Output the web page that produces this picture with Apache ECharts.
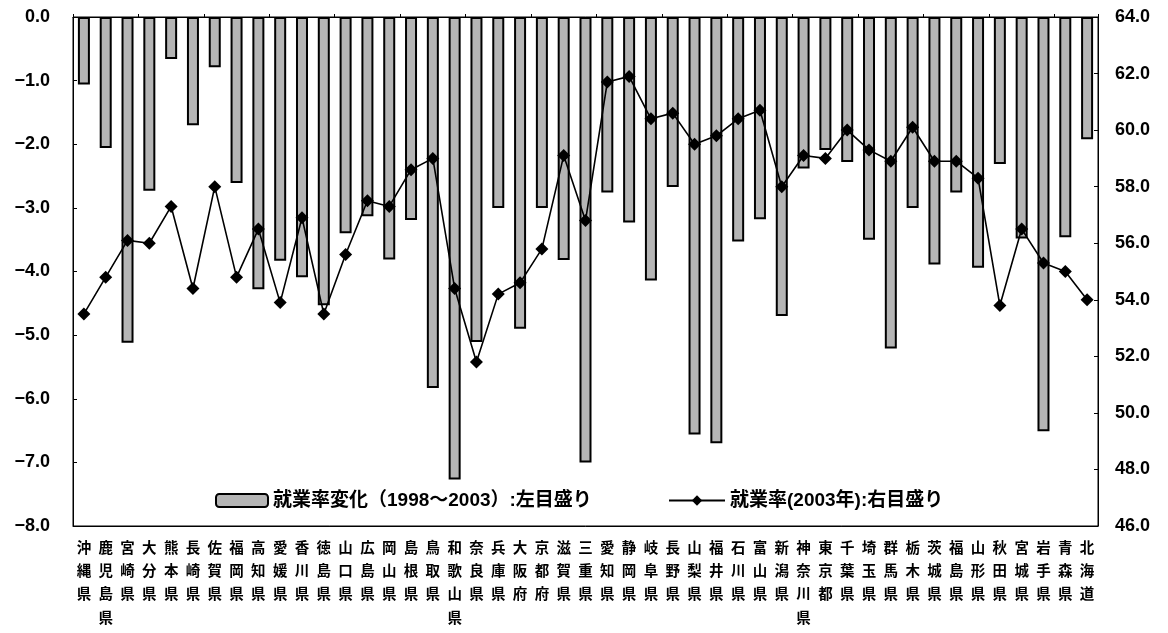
<!DOCTYPE html>
<html><head><meta charset="utf-8">
<script src="https://cdn.jsdelivr.net/npm/echarts@6/dist/echarts.min.js"></script>
<style>html,body{margin:0;padding:0;background:#fff}#c{width:1168px;height:633px}</style>
</head><body><div id="c"></div>
<script>
const prefectures = ['沖縄県','鹿児島県','宮崎県','大分県','熊本県','長崎県','佐賀県','福岡県','高知県','愛媛県','香川県','徳島県','山口県','広島県','岡山県','島根県','鳥取県','和歌山県','奈良県','兵庫県','大阪府','京都府','滋賀県','三重県','愛知県','静岡県','岐阜県','長野県','山梨県','福井県','石川県','富山県','新潟県','神奈川県','東京都','千葉県','埼玉県','群馬県','栃木県','茨城県','福島県','山形県','秋田県','宮城県','岩手県','青森県','北海道'];
const changeValues = [-1.06,-2.06,-5.12,-2.73,-0.66,-1.70,-0.79,-2.61,-4.28,-3.83,-4.09,-4.53,-3.40,-3.13,-3.81,-3.19,-5.83,-7.27,-5.11,-3.00,-4.90,-3.00,-3.82,-7.00,-2.76,-3.23,-4.14,-2.67,-6.56,-6.70,-3.53,-3.18,-4.70,-2.38,-2.09,-2.28,-3.50,-5.21,-3.00,-3.89,-2.76,-3.94,-2.31,-3.48,-6.51,-3.46,-1.92];
const rateValues = [53.5,54.8,56.1,56.0,57.3,54.4,58.0,54.8,56.5,53.9,56.9,53.5,55.6,57.5,57.3,58.6,59.0,54.4,51.8,54.2,54.6,55.8,59.1,56.8,61.7,61.9,60.4,60.6,59.5,59.8,60.4,60.7,58.0,59.1,59.0,60.0,59.3,58.9,60.1,58.9,58.9,58.3,53.8,56.5,55.3,55.0,54.0];
const seriesNames = ['就業率変化（1998～2003）:左目盛り','就業率(2003年):右目盛り'];
const leftAxisRange = [-8, 0, 1];
const rightAxisRange = [46, 64, 2];

const FONT = '"Liberation Sans","Noto Sans CJK JP",sans-serif';
const legendText = {fontSize:19,fontWeight:'bold',color:'#000',fontFamily:FONT};
const chart = echarts.init(document.getElementById('c'), null, {renderer:'canvas'});
chart.setOption({
  animation:false,
  backgroundColor:'#fff',
  grid:{left:73,right:70,top:17,bottom:107,show:true,borderColor:'#000',borderWidth:1,backgroundColor:'transparent'},
  legend:[{
    left:210, top:486, itemWidth:52, itemHeight:13, itemGap:8,
    textStyle:legendText, data:[seriesNames[0]]
  },{
    left:663, top:486, itemWidth:56, itemHeight:13, itemGap:8,
    textStyle:legendText, data:[seriesNames[1]]
  }],
  xAxis:[{
    type:'category', data:prefectures, position:'bottom',
    axisLine:{show:true,onZero:false,lineStyle:{color:'#000',width:1}},
    axisTick:{show:false},
    axisLabel:{interval:0,margin:11,fontSize:14.5,fontWeight:'bold',color:'#000',lineHeight:23.3,fontFamily:FONT,
      formatter:v=>v.split('').join('\n'), verticalAlign:'top'}
  },{
    type:'category', data:prefectures, position:'top',
    axisLine:{show:true,onZero:false,lineStyle:{color:'#000',width:1}},
    axisTick:{show:true,length:3,lineStyle:{color:'#000'}},
    axisLabel:{show:false}
  }],
  yAxis:[{
    type:'value', min:leftAxisRange[0], max:leftAxisRange[1], interval:leftAxisRange[2], position:'left',
    axisLine:{show:true,lineStyle:{color:'#000',width:1}},
    axisTick:{show:true,inside:true,length:4,lineStyle:{color:'#000'}},
    splitLine:{show:false},
    axisLabel:{margin:23,fontSize:18,fontWeight:'bold',color:'#000',fontFamily:FONT,
      formatter:v=>v.toFixed(1).replace('-','−')}
  },{
    type:'value', min:rightAxisRange[0], max:rightAxisRange[1], interval:rightAxisRange[2], position:'right',
    axisLine:{show:true,lineStyle:{color:'#000',width:1}},
    axisTick:{show:true,inside:true,length:4,lineStyle:{color:'#000'}},
    splitLine:{show:false},
    axisLabel:{margin:17,fontSize:18,fontWeight:'bold',color:'#000',fontFamily:FONT,
      formatter:v=>v.toFixed(1)}
  }],
  series:[{
    name:seriesNames[0], type:'bar', data:changeValues, xAxisIndex:0, yAxisIndex:0,
    barWidth:12,
    itemStyle:{color:'#b5b5b5',borderColor:'#000',borderWidth:2}
  },{
    name:seriesNames[1], type:'line', data:rateValues, xAxisIndex:0, yAxisIndex:1,
    symbol:'diamond', symbolSize:13, z:5,
    lineStyle:{color:'#000',width:1.6},
    itemStyle:{color:'#000'}
  }]
});
</script></body></html>
